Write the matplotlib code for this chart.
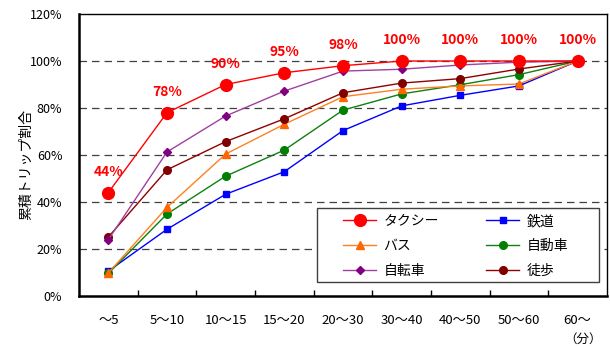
import matplotlib
matplotlib.use("Agg")
import matplotlib.pyplot as plt
from matplotlib.ticker import FixedLocator, NullFormatter
from matplotlib.patches import Rectangle

plt.rcParams['font.family'] = ['Noto Sans CJK JP', 'DejaVu Sans']

categories = ["～5", "5～10", "10～15", "15～20", "20～30", "30～40", "40～50", "50～60", "60～"]
taxi = [44, 78, 90, 95, 98, 100, 100, 100, 100]
rail = [10.6, 28.4, 43.3, 52.9, 70.4, 80.9, 85.4, 89.4, 100]
bus = [9.8, 37.7, 60.4, 73.1, 84.8, 88.0, 89.4, 90.2, 100]
car = [9.6, 34.9, 51.0, 62.1, 79.1, 86.0, 89.9, 94.2, 100]
bicycle = [24.0, 61.3, 76.6, 87.2, 95.7, 96.5, 98.3, 99.5, 100]
walk = [25.1, 53.7, 65.7, 75.4, 86.5, 90.6, 92.5, 96.6, 100]
taxi_labels = ["44%", "78%", "90%", "95%", "98%", "100%", "100%", "100%", "100%"]

fig = plt.figure(figsize=(6.1, 3.47), dpi=100)
ax = fig.add_axes([79/610, 1-296/347, (607-79)/610, (296-14)/347])

x = list(range(len(categories)))
series = [
    ("タクシー", taxi, "#FF0000", "#FF0000", "o", 8.5),
    ("バス", bus, "#FF8020", "#FF6600", "^", 5.5),
    ("自転車", bicycle, "#A040A0", "#800080", "D", 4),
    ("鉄道", rail, "#0000FF", "#0000FF", "s", 5),
    ("自動車", car, "#108010", "#008000", "o", 5.5),
    ("徒歩", walk, "#900000", "#800000", "o", 5.5),
]
draw_order = [3, 4, 1, 5, 2, 0]
lines = {}
for i in draw_order:
    name, vals, lc, mc, m, ms = series[i]
    ln, = ax.plot(x, vals, color=lc, marker=m, markersize=ms, markerfacecolor=mc,
                  markeredgecolor=mc, linewidth=1.0, label=name, zorder=3 + (i == 0))
    lines[i] = ln
handles = [lines[i] for i in range(6)]

for xi, v, t in zip(x, taxi, taxi_labels):
    ax.annotate(t, (xi, v), xytext=(0, 10), textcoords="offset points",
                ha="center", va="bottom", color="#FF0000", fontsize=10, fontweight="bold")

ax.set_xlim(-0.5, len(categories) - 0.5)
ax.set_ylim(0, 120)
ax.set_yticks([0, 20, 40, 60, 80, 100, 120])
ax.set_yticklabels([f"{v}%" for v in [0, 20, 40, 60, 80, 100, 120]], fontsize=9)
ax.tick_params(axis="y", length=0, pad=12)
ax.set_xticks(x)
ax.set_xticklabels(categories, fontsize=9.5)
ax.tick_params(axis="x", which="major", length=0, pad=13)
ax.xaxis.set_minor_locator(FixedLocator([i + 0.5 for i in range(len(categories) - 1)]))
ax.xaxis.set_minor_formatter(NullFormatter())
ax.tick_params(axis="x", which="minor", direction="in", length=4, width=1)

for gy in [20, 40, 60, 80, 100]:
    ax.axhline(gy, color="#404040", linestyle=(0, (6, 4)), linewidth=0.9, zorder=1)

ax.spines["left"].set_linewidth(1.8)
ax.spines["bottom"].set_linewidth(1.8)
ax.spines["top"].set_linewidth(1.0)
ax.spines["right"].set_linewidth(1.0)

ax.set_ylabel("累積トリップ割合", fontsize=10)
ax.yaxis.set_label_coords((33 - 79) / 528, (296 - 164) / 282)

# legend box
x0 = (317 - 79) / 528
x1 = (599 - 79) / 528
y0 = (296 - 282) / 282
y1 = (296 - 208) / 282
ax.add_patch(Rectangle((x0, y0), x1 - x0, y1 - y0, transform=ax.transAxes,
                       facecolor="white", edgecolor="#404040", linewidth=1.0, zorder=6))

leg = ax.legend(handles=handles, ncol=2, loc="upper left",
                bbox_to_anchor=((343 - 79) / 528, (296 - 214) / 282),
                fontsize=10, frameon=False, borderpad=0, borderaxespad=0,
                handlelength=2.4, handletextpad=0.5, columnspacing=3.4, labelspacing=0.8)
leg.set_zorder(7)

fig.text(583/610, 1-339/347, "（分）", ha="center", va="center", fontsize=9)

fig.savefig("out.png", dpi=100)
